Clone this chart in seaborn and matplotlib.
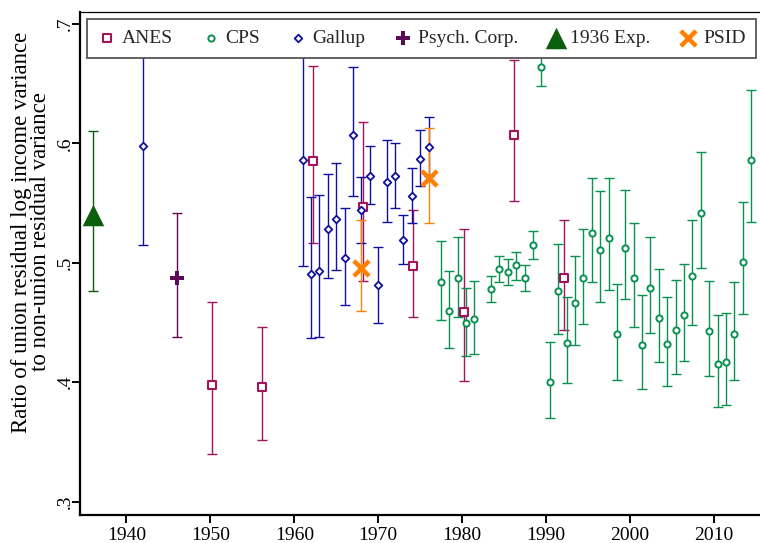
import numpy as np
import pandas as pd
import matplotlib
matplotlib.use("Agg")
import matplotlib.pyplot as plt
import seaborn as sns
from matplotlib.ticker import FuncFormatter

# ---------------- data ----------------
anes_years = [1950, 1956, 1962, 1968, 1974, 1980, 1986, 1992]
anes_vals = [0.398, 0.396, 0.585, 0.547, 0.497, 0.459, 0.607, 0.487]
anes_lo = [0.340, 0.352, 0.517, 0.485, 0.455, 0.401, 0.552, 0.444]
anes_hi = [0.467, 0.446, 0.665, 0.618, 0.544, 0.528, 0.670, 0.536]

cps_years = [1977, 1978, 1979, 1980, 1981, 1983, 1984, 1985, 1986, 1987, 1988,
             1989, 1990, 1991, 1992, 1993, 1994, 1995, 1996, 1997, 1998, 1999,
             2000, 2001, 2002, 2003, 2004, 2005, 2006, 2007, 2008, 2009, 2010,
             2011, 2012, 2013, 2014]
cps_vals = [0.484, 0.460, 0.487, 0.450, 0.453, 0.478, 0.495, 0.492, 0.498, 0.487,
            0.515, 0.664, 0.400, 0.476, 0.433, 0.466, 0.487, 0.525, 0.511, 0.521,
            0.440, 0.512, 0.487, 0.431, 0.479, 0.454, 0.432, 0.444, 0.456, 0.489,
            0.542, 0.443, 0.415, 0.417, 0.440, 0.501, 0.586]
cps_lo = [0.452, 0.429, 0.455, 0.422, 0.424, 0.467, 0.484, 0.481, 0.486, 0.476,
          0.503, 0.648, 0.370, 0.440, 0.399, 0.431, 0.449, 0.484, 0.467, 0.477,
          0.402, 0.470, 0.446, 0.394, 0.441, 0.417, 0.397, 0.407, 0.418, 0.448,
          0.496, 0.405, 0.379, 0.381, 0.402, 0.457, 0.534]
cps_hi = [0.518, 0.493, 0.522, 0.479, 0.485, 0.489, 0.506, 0.503, 0.509, 0.498,
          0.527, 0.680, 0.434, 0.516, 0.471, 0.506, 0.528, 0.571, 0.560, 0.571,
          0.482, 0.561, 0.533, 0.473, 0.522, 0.495, 0.471, 0.486, 0.499, 0.536,
          0.593, 0.485, 0.456, 0.458, 0.484, 0.551, 0.645]

gallup_years = [1942, 1961, 1962, 1963, 1964, 1965, 1966, 1967, 1968, 1969,
                1970, 1971, 1972, 1973, 1974, 1975, 1976]
gallup_vals = [0.598, 0.586, 0.491, 0.493, 0.528, 0.537, 0.504, 0.607, 0.544,
               0.573, 0.481, 0.568, 0.573, 0.519, 0.556, 0.587, 0.597]
gallup_lo = [0.515, 0.497, 0.437, 0.438, 0.487, 0.494, 0.465, 0.556, 0.517,
             0.549, 0.450, 0.534, 0.546, 0.499, 0.533, 0.564, 0.573]
gallup_hi = [0.681, 0.675, 0.555, 0.557, 0.574, 0.584, 0.546, 0.664, 0.572,
             0.598, 0.513, 0.603, 0.600, 0.540, 0.579, 0.611, 0.622]

psych_years = [1946]
psych_vals = [0.487]
psych_lo = [0.438]
psych_hi = [0.542]

exp_years = [1936]
exp_vals = [0.540]
exp_lo = [0.476]
exp_hi = [0.610]

psid_years = [1968, 1976]
psid_vals = [0.496, 0.571]
psid_lo = [0.460, 0.533]
psid_hi = [0.536, 0.613]

series_names = ["ANES", "CPS", "Gallup", "Psych. Corp.", "1936 Exp.", "PSID"]
x_ticks = [1940, 1950, 1960, 1970, 1980, 1990, 2000, 2010]
y_ticks = [0.3, 0.4, 0.5, 0.6, 0.7]
y_label = "Ratio of union residual log income variance\nto non-union residual variance"

# ---------------- style ----------------
sns.set_theme(style="ticks")
plt.rcParams["font.family"] = ["Liberation Serif", "DejaVu Serif"]

fig = plt.figure(figsize=(7.6, 5.43), dpi=100)
ax = fig.add_axes([80 / 760, 28.5 / 543, 680 / 760, 502.2 / 543])

# name, years, vals, lo, hi, color, marker, size, facecolor, lw, x-offset
specs = [
    (series_names[0], anes_years, anes_vals, anes_lo, anes_hi, "#a3135c", "s", 38, "white", 1.5, 0.2),
    (series_names[1], cps_years, cps_vals, cps_lo, cps_hi, "#089150", "o", 20, "white", 1.4, 0.45),
    (series_names[2], gallup_years, gallup_vals, gallup_lo, gallup_hi, "#1010a0", "D", 15, "white", 1.3, 0.0),
    (series_names[3], psych_years, psych_vals, psych_lo, psych_hi, "#5c0a57", "P", 115, None, 0.0, 0.0),
    (series_names[4], exp_years, exp_vals, exp_lo, exp_hi, "#0b5e0b", "^", 240, None, 0.0, 0.0),
    (series_names[5], psid_years, psid_vals, psid_lo, psid_hi, "#ff8000", "x", 120, None, 3.2, 0.0),
]

for i, (name, yrs, vals, lo, hi, col, mk, sz, face, lw, off) in enumerate(specs):
    df = pd.DataFrame({"year": np.array(yrs, float) + off,
                       "val": vals, "lo": lo, "hi": hi})
    err = np.vstack([df["val"] - df["lo"], df["hi"] - df["val"]])
    ax.errorbar(df["year"], df["val"], yerr=err, fmt="none", ecolor=col,
                elinewidth=1.0, capsize=3.3, capthick=1.0, zorder=2 + i * 0.1)
    kw = dict(marker=mk, s=sz, color=col, linewidth=lw, label=name,
              zorder=3 + i * 0.1, ax=ax)
    if face is not None:
        kw["facecolor"] = face
        kw["edgecolor"] = col
    elif mk != "x":
        kw["edgecolor"] = col
    sns.scatterplot(data=df, x="year", y="val", **kw)

ax.set_xlim(1934.46, 2015.5)
ax.set_ylim(0.2892, 0.7098)
ax.set_xticks(x_ticks)
ax.set_yticks(y_ticks)
ax.yaxis.set_major_formatter(FuncFormatter(lambda v, p: f"{v:.1f}".lstrip("0")))
ax.set_xlabel("")
ax.set_ylabel(y_label, fontsize=16.5, linespacing=0.92, color="black")
ax.yaxis.set_label_coords(-0.042, 0.5625)

ax.tick_params(axis="both", labelsize=14, length=6, width=1.4, colors="black",
               direction="out")
ax.tick_params(axis="y", labelrotation=90, pad=-1.5)
ax.tick_params(axis="x", pad=3)
for lab in ax.get_yticklabels():
    lab.set_va("center")

for s in ["left", "bottom"]:
    ax.spines[s].set_linewidth(1.6)
    ax.spines[s].set_color("black")
ax.spines["top"].set_linewidth(0.9)
ax.spines["top"].set_color("black")
ax.spines["right"].set_visible(False)

leg = ax.legend(loc="upper left",
                bbox_to_anchor=((87 - 80) / 680, 1 - (19 - 12.3) / 502.2),
                borderaxespad=0, ncol=6, frameon=True, fancybox=False,
                edgecolor="#555555", framealpha=1, fontsize=14,
                handletextpad=0.25, columnspacing=1.44, handlelength=1.0,
                borderpad=0.55, scatterpoints=1)
leg.get_frame().set_linewidth(1.3)
leg.set_zorder(10)

fig.savefig("out.png", dpi=100)
